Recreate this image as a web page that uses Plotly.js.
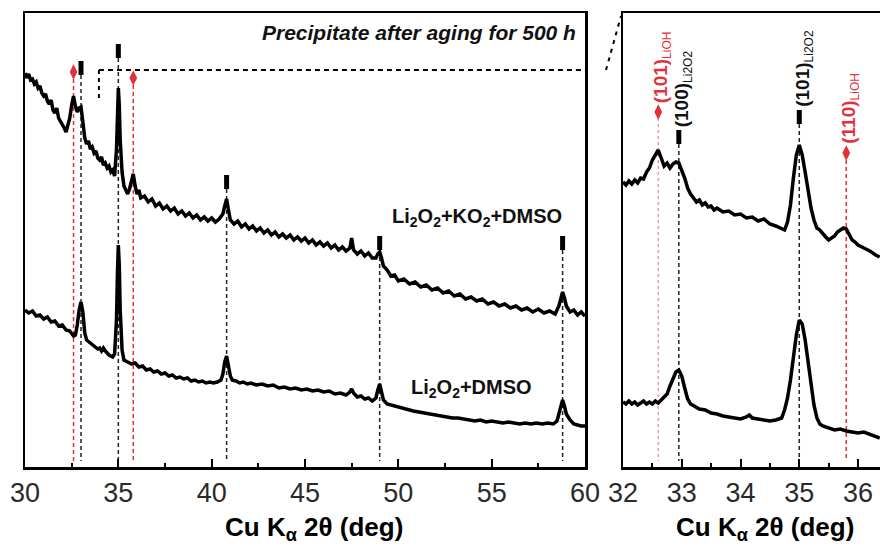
<!DOCTYPE html>
<html><head><meta charset="utf-8">
<script src="https://cdn.plot.ly/plotly-3.0.1.min.js"></script>
<style>html,body{margin:0;padding:0;background:#fff}#chart{width:880px;height:548px}</style>
</head><body><div id="chart"></div>
<script>
// ---- Data (2θ in deg, intensity in a.u.) ----
const koX = [30.0,30.1,30.2,30.3,30.4,30.5,30.6,30.7,30.8,30.9,31.0,31.1,31.2,31.3,31.4,31.5,31.6,31.7,31.8,31.9,32.0,32.1,32.2,32.3,32.4,32.5,32.6,32.7,32.8,32.9,33.0,33.1,33.2,33.3,33.4,33.5,33.6,33.7,33.8,33.9,34.0,34.1,34.2,34.3,34.4,34.5,34.6,34.7,34.8,34.9,34.95,35.0,35.05,35.1,35.2,35.3,35.4,35.5,35.6,35.7,35.8,35.9,36.0,36.1,36.2,36.4,36.6,36.8,37.0,37.2,37.4,37.6,37.8,38.0,38.2,38.4,38.6,38.8,39.0,39.2,39.4,39.6,39.8,40.0,40.2,40.4,40.6,40.7,40.8,40.9,41.0,41.2,41.4,41.6,41.8,42.0,42.2,42.4,42.6,42.8,43.0,43.2,43.4,43.6,43.8,44.0,44.2,44.4,44.6,44.8,45.0,45.2,45.4,45.6,45.8,46.0,46.2,46.4,46.6,46.8,47.0,47.2,47.4,47.5,47.6,47.8,48.0,48.2,48.4,48.6,48.8,48.9,49.0,49.1,49.2,49.4,49.6,49.8,50.0,50.3,50.6,50.9,51.2,51.5,51.8,52.1,52.4,52.7,53.0,53.3,53.6,53.9,54.2,54.5,54.8,55.1,55.4,55.7,56.0,56.3,56.6,56.9,57.2,57.5,57.8,58.1,58.4,58.6,58.7,58.8,58.9,59.0,59.2,59.4,59.6,59.8,60.0];
const koY = [394,389,393,387,388,383,385,379,381,374,371,373,366,363,367,357,354,359,349,346,343,339,335,341,349,362,371,361,355,359,360,345,329,323,326,318,320,314,316,309,307,310,302,304,299,301,295,297,291,317,357,379,362,327,295,281,277,273,278,285,293,281,273,277,269,271,265,268,261,264,258,261,256,259,253,256,251,254,249,252,247,250,246,249,245,248,253,261,268,257,247,243,246,240,243,238,241,236,239,234,237,232,235,230,233,229,232,227,230,226,229,224,227,222,225,221,224,219,222,217,220,216,219,229,217,213,216,211,214,209,209,213,215,209,201,197,191,192,186,188,183,185,180,182,177,179,174,176,171,173,168,170,166,168,163,165,161,163,159,161,157,159,155,158,154,156,153,161,170,175,169,161,155,157,152,155,151];

const dmX = [30.0,30.2,30.4,30.6,30.8,31.0,31.2,31.4,31.6,31.8,32.0,32.2,32.4,32.6,32.7,32.8,32.9,33.0,33.1,33.2,33.3,33.5,33.7,33.9,34.0,34.1,34.2,34.3,34.5,34.7,34.8,34.9,34.95,35.0,35.05,35.1,35.2,35.3,35.5,35.7,35.9,36.1,36.3,36.5,36.7,36.9,37.1,37.3,37.5,37.7,37.9,38.1,38.3,38.5,38.7,38.9,39.1,39.3,39.5,39.7,39.9,40.1,40.3,40.5,40.6,40.7,40.8,40.9,41.0,41.1,41.3,41.5,41.7,41.9,42.1,42.4,42.7,43.0,43.3,43.6,43.9,44.2,44.5,44.8,45.1,45.4,45.7,46.0,46.3,46.6,46.9,47.2,47.4,47.5,47.6,47.8,48.0,48.2,48.4,48.6,48.8,48.9,49.0,49.1,49.2,49.4,49.6,49.9,50.2,50.5,50.8,51.1,51.4,51.7,52.0,52.3,52.6,52.9,53.2,53.5,53.8,54.1,54.4,54.7,55.0,55.3,55.6,55.9,56.2,56.5,56.8,57.1,57.4,57.7,58.0,58.3,58.5,58.6,58.7,58.8,58.9,59.0,59.2,59.4,59.6,59.8,60.0];
const dmY = [157,154,156,151,152,148,150,145,146,141,142,137,136,131,132,142,157,165,155,134,127,124,121,118,119,116,119,116,112,110,113,147,192,222,202,157,117,107,105,103,104,100,101,97,98,95,96,93,94,91,92,89,90,88,89,86,87,85,86,84,85,84,85,87,93,105,111,101,91,87,86,84,85,83,84,82,83,81,82,79,80,78,79,77,78,76,77,75,76,73,74,72,75,78,74,70,71,68,69,66,69,77,83,75,67,63,62,60,59,57,56,55,54,53,52,51,50,49,49,48,47,46,47,45,46,45,44,45,44,43,44,43,44,43,44,43,46,53,63,67,61,53,47,43,42,41,41];

const zKoX = [32.0,32.05,32.1,32.15,32.2,32.25,32.3,32.35,32.4,32.45,32.5,32.55,32.6,32.65,32.7,32.75,32.8,32.85,32.9,32.95,33.0,33.05,33.1,33.15,33.2,33.25,33.3,33.35,33.4,33.45,33.5,33.55,33.6,33.7,33.8,33.9,34.0,34.1,34.2,34.3,34.4,34.5,34.6,34.7,34.75,34.8,34.85,34.9,34.95,35.0,35.05,35.1,35.15,35.2,35.25,35.3,35.35,35.4,35.45,35.5,35.55,35.6,35.65,35.7,35.75,35.8,35.85,35.9,35.95,36.0,36.1,36.2,36.3,36.37];
const zKoY = [285,282,286,283,287,284,289,288,295,299,307,312,317,309,301,304,299,303,305,304,297,289,279,273,269,265,267,262,264,260,261,257,259,255,256,252,253,249,250,246,248,243,241,238,237,245,262,289,312,322,312,295,277,259,247,239,237,233,230,227,229,231,235,237,239,238,232,227,225,222,219,216,212,210];

const zDmX = [32.0,32.05,32.1,32.15,32.2,32.25,32.3,32.35,32.4,32.45,32.5,32.55,32.6,32.65,32.7,32.75,32.8,32.85,32.9,32.95,33.0,33.05,33.1,33.15,33.2,33.25,33.3,33.4,33.5,33.6,33.7,33.8,33.9,34.0,34.1,34.15,34.2,34.3,34.4,34.5,34.6,34.65,34.7,34.75,34.8,34.85,34.9,34.95,35.0,35.05,35.1,35.15,35.2,35.25,35.3,35.35,35.4,35.5,35.6,35.7,35.8,35.9,36.0,36.1,36.2,36.3,36.37];
const zDmY = [65,63,66,63,65,62,64,66,63,65,63,66,64,67,69,73,81,89,95,97,91,79,68,63,61,60,58,57,54,53,51,50,49,48,50,52,49,48,47,46,47,48,49,57,69,87,110,132,147,143,127,105,82,62,49,43,41,39,37,38,36,35,34,35,33,31,29];

// reference peak positions and marker heights
const li2o2Peaks = [33.0, 35.0, 40.8, 49.0, 58.8];
const li2o2MarkY = [399, 416, 285, 224, 224];
const liohPeaks = [32.6, 35.8];
const liohMarkY = [395, 389];
const zLi2o2Peaks = [32.95, 35.0];
const zLi2o2MarkY = [330, 350];
const zLiohPeaks = [32.6, 35.8];
const zLiohMarkY = [355, 314];
const zLi2o2Labels = ['(100)', '(101)'];
const zLiohLabels = ['(101)', '(110)'];

const xTicksL = [30, 35, 40, 45, 50, 55, 60];
const xTicksR = [32, 33, 34, 35, 36];
const zoomBracketX = 33.96;
const zoomBracketY = [397, 367];

// ---- Styling ----
const FONT = "Arial, 'Liberation Sans', sans-serif";
const RED = '#e3313a';
const PINK = '#f19aa4';
const BASE = 6;

function vlines(xs, tops, xa, ya, color, dash, width) {
  const X = [], Y = [];
  xs.forEach((x, i) => { X.push(x, x, null); Y.push(tops[i], BASE, null); });
  return {x: X, y: Y, xaxis: xa, yaxis: ya, mode: 'lines', hoverinfo: 'skip',
          line: {color: color, width: width || 1.5, dash: dash}, showlegend: false};
}
function marks(xs, ys, xa, ya, kind) {
  if (kind === 'rect') {
    return {x: xs, y: ys, xaxis: xa, yaxis: ya, mode: 'markers', showlegend: false,
            marker: {symbol: 'line-ns', size: 10, color: '#000', line: {color: '#000', width: 5}}};
  }
  return {x: xs, y: ys, xaxis: xa, yaxis: ya, mode: 'markers', showlegend: false,
          marker: {symbol: 'diamond-tall', size: 11, color: RED, line: {width: 0}}};
}
const trace = (x, y, xa, ya) => ({x, y, xaxis: xa, yaxis: ya, mode: 'lines', showlegend: false,
  line: {color: '#000', width: 3.5}, hoverinfo: 'skip'});

const bracket = vlines([zoomBracketX], [zoomBracketY[0]], 'x', 'y', '#000', '4px,4px', 2);
bracket.y = [zoomBracketY[0], zoomBracketY[1], null];

const data = [
  vlines(li2o2Peaks, li2o2MarkY, 'x', 'y', '#222', '4px,3px'),
  vlines(liohPeaks, liohMarkY, 'x', 'y', RED, '4px,3px'),
  bracket,
  vlines(zLi2o2Peaks, zLi2o2MarkY, 'x2', 'y2', '#222', '4px,3px'),
  vlines([zLiohPeaks[0]], [zLiohMarkY[0]], 'x2', 'y2', PINK, 'dot'),
  vlines([zLiohPeaks[1]], [zLiohMarkY[1]], 'x2', 'y2', RED, '4px,3px'),
  trace(koX, koY, 'x', 'y'),
  trace(dmX, dmY, 'x', 'y'),
  trace(zKoX, zKoY, 'x2', 'y2'),
  trace(zDmX, zDmY, 'x2', 'y2'),
  marks(li2o2Peaks, li2o2MarkY, 'x', 'y', 'rect'),
  marks(liohPeaks, liohMarkY, 'x', 'y', 'dia'),
  marks(zLi2o2Peaks, zLi2o2MarkY, 'x2', 'y2', 'rect'),
  marks(zLiohPeaks, zLiohMarkY, 'x2', 'y2', 'dia')
];

const axCommon = {
  showline: true, linecolor: '#000', linewidth: 2.5, mirror: true,
  ticks: 'inside', ticklen: 8, tickwidth: 2, tickcolor: '#000',
  tickfont: {family: FONT, size: 27, color: '#2a2a2a'}, zeroline: false, showgrid: false,
  fixedrange: true
};
const layout = {
  width: 880, height: 548, margin: {l: 0, r: 0, t: 0, b: 0},
  paper_bgcolor: '#fff', plot_bgcolor: '#fff', showlegend: false,
  font: {family: FONT},
  xaxis: Object.assign({}, axCommon, {domain: [25/880, 585/880], range: [30, 60],
    tickvals: xTicksL, minor: {dtick: 2.5, ticks: 'inside', ticklen: 4, tickwidth: 2, tickcolor: '#000'}}),
  yaxis: {domain: [1 - 467/548, 1 - 13/548], range: [0, 454], showline: true, linecolor: '#000',
    linewidth: 2.5, mirror: true, ticks: '', showticklabels: false, showgrid: false, zeroline: false},
  xaxis2: Object.assign({}, axCommon, {domain: [623/880, 1], range: [32, 36.374], anchor: 'y2',
    tickvals: xTicksR, minor: {dtick: 0.5, ticks: 'inside', ticklen: 4, tickwidth: 2, tickcolor: '#000'}}),
  yaxis2: {domain: [1 - 467/548, 1 - 13/548], range: [0, 454], anchor: 'x2', showline: true,
    linecolor: '#000', linewidth: 2.5, mirror: false, ticks: '', showticklabels: false,
    showgrid: false, zeroline: false},
  shapes: [
    {type: 'line', xref: 'x', yref: 'y', x0: zoomBracketX, x1: 61.1, y0: zoomBracketY[0], y1: zoomBracketY[0],
     line: {color: '#000', width: 2, dash: '5px,4px'}},
    {type: 'line', xref: 'paper', yref: 'paper', x0: 606/880, x1: 621/880, y0: 1 - 70/548, y1: 1 - 16/548,
     line: {color: '#000', width: 2, dash: '4px,5px'}}
  ],
  annotations: []
};
const ann = layout.annotations;
ann.push({xref: 'paper', yref: 'paper', x: 578/880, y: 1 - 32/548, xanchor: 'right', yanchor: 'middle',
  text: '<b><i>Precipitate after aging for 500 h</i></b>', showarrow: false,
  font: {family: FONT, size: 21, color: '#111'}});
ann.push({xref: 'paper', yref: 'paper', x: 477/880, y: 1 - 217/548, xanchor: 'center', yanchor: 'middle', showarrow: false,
  text: '<b>Li<sub>2</sub>O<sub>2</sub>+KO<sub>2</sub>+DMSO</b>', font: {family: FONT, size: 20, color: '#111'}});
ann.push({xref: 'paper', yref: 'paper', x: 471/880, y: 1 - 388/548, xanchor: 'center', yanchor: 'middle', showarrow: false,
  text: '<b>Li<sub>2</sub>O<sub>2</sub>+DMSO</b>', font: {family: FONT, size: 20, color: '#111'}});
const xt = '<b>Cu K<sub>α</sub> 2θ (deg)</b>';
ann.push({xref: 'paper', yref: 'paper', x: 314/880, y: 1 - 528/548, xanchor: 'center', yanchor: 'middle',
  showarrow: false, text: xt, font: {family: FONT, size: 26, color: '#000'}});
ann.push({xref: 'paper', yref: 'paper', x: 765/880, y: 1 - 528/548, xanchor: 'center', yanchor: 'middle',
  showarrow: false, text: xt, font: {family: FONT, size: 26, color: '#000'}});
zLi2o2Peaks.forEach((p, i) => ann.push({xref: 'x2', yref: 'y2', x: p, y: zLi2o2MarkY[i], yshift: 8, xshift: 5,
  xanchor: 'center', yanchor: 'bottom', textangle: -90, showarrow: false,
  text: '<b>' + zLi2o2Labels[i] + '</b><sub><span style="font-size:12px">Li2O2</span></sub>',
  font: {family: FONT, size: 19, color: '#111'}}));
zLiohPeaks.forEach((p, i) => ann.push({xref: 'x2', yref: 'y2', x: p, y: zLiohMarkY[i], yshift: 7, xshift: 4,
  xanchor: 'center', yanchor: 'bottom', textangle: -90, showarrow: false,
  text: '<b>' + zLiohLabels[i] + '</b><sub><span style="font-size:12px">LiOH</span></sub>',
  font: {family: FONT, size: 19, color: RED}}));

Plotly.newPlot('chart', data, layout, {displayModeBar: false, staticPlot: true});
</script></body></html>
